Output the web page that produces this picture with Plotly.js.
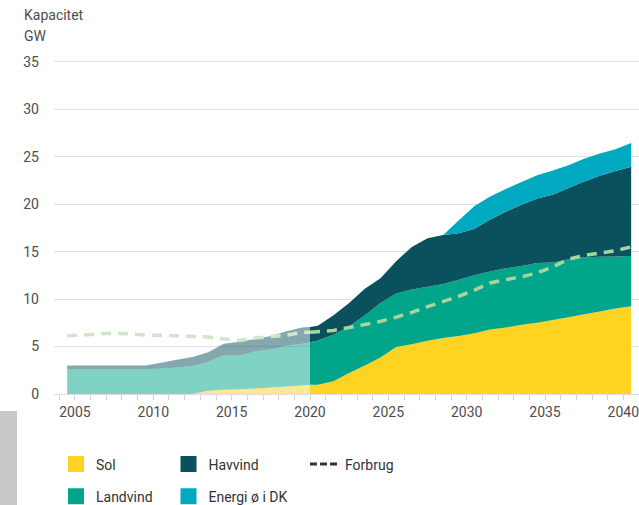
<!DOCTYPE html>
<html>
<head>
<meta charset="utf-8">
<script src="https://cdn.plot.ly/plotly-3.0.1.min.js"></script>
<style>
  html, body { margin: 0; padding: 0; background: #fff; }
  #plot { width: 639px; height: 505px; }
</style>
</head>
<body>
<div id="plot"></div>
<script>
// Historik (vises afbleget), punkter midt i året
const yearsHist = [2004.5, 2005.5, 2006.5, 2007.5, 2008.5, 2009.5, 2010.5, 2011.5,
  2012.5, 2013.5, 2014.5, 2015.5, 2016.5, 2017.5, 2018.5, 2019.5, 2020];
const solHist = [0, 0, 0, 0, 0, 0, 0, 0, 0, 0.35, 0.45, 0.5, 0.58, 0.68, 0.8, 0.92, 0.98];
const landvindHist = [2.6, 2.6, 2.6, 2.6, 2.6, 2.6, 2.7, 2.8, 2.95, 3.05, 3.65, 3.55, 3.92, 4.02, 4.3, 4.38, 4.47];
const havvindHist = [0.4, 0.4, 0.4, 0.4, 0.4, 0.4, 0.6, 0.8, 0.95, 1.0, 1.2, 1.45, 1.3, 1.4, 1.5, 1.7, 1.6];
const forbrugHist = [6.15, 6.2, 6.35, 6.4, 6.35, 6.2, 6.2, 6.15, 6.1, 6.0, 5.8, 5.65, 5.9, 6.05, 6.2, 6.5, 6.5];

// Fremskrivning 2020-2040
const yearsProj = [2020, 2020.5, 2021.5, 2022.5, 2023.5, 2024.5, 2025.5, 2026.5, 2027.5, 2028.5,
  2029.5, 2030.5, 2031.5, 2032.5, 2033.5, 2034.5, 2035.5, 2036.5, 2037.5, 2038.5, 2039.5, 2040.5];
const solProj = [0.98, 0.98, 1.35, 2.2, 3.0, 3.85, 4.95, 5.25, 5.6, 5.9, 6.1, 6.4, 6.8, 7.0, 7.3, 7.5, 7.8, 8.1, 8.4, 8.7, 9.0, 9.25];
const landvindProj = [4.47, 4.67, 4.9, 4.9, 5.3, 5.75, 5.65, 5.75, 5.7, 5.7, 5.95, 6.1, 6.1, 6.25, 6.2, 6.3, 6.05, 6.1, 6.0, 5.75, 5.5, 5.3];
const havvindProj = [1.6, 1.55, 2.05, 2.5, 2.8, 2.6, 3.4, 4.5, 5.1, 5.15, 4.9, 4.9, 5.5, 5.95, 6.45, 6.8, 7.15, 7.5, 8.0, 8.55, 9.0, 9.4];
const energiOProj = [0, 0, 0, 0, 0, 0, 0, 0, 0, 0, 1.35, 2.4, 2.4, 2.4, 2.4, 2.45, 2.55, 2.4, 2.4, 2.35, 2.3, 2.5];
const forbrugProj = [6.5, 6.55, 6.7, 7.0, 7.3, 7.65, 8.1, 8.6, 9.2, 9.75, 10.3, 10.95, 11.7, 12.05, 12.35, 12.75, 13.4, 14.2, 14.6, 14.85, 15.1, 15.5];

const xTicks = [2005, 2010, 2015, 2020, 2025, 2030, 2035, 2040];

const colSol = "#ffd322";
const colLand = "#00a58a";
const colHav = "#0b515d";
const colEnergi = "#00a9c0";
const colForbrug = "#a9d49f";

function area(x, y, color, group) {
  return {
    x: x, y: y, type: "scatter", mode: "none",
    stackgroup: group, fillcolor: color,
    line: { width: 0 }, showlegend: false, hoverinfo: "skip"
  };
}

function legendBox(name, color, legend) {
  return {
    x: [null], y: [null], type: "scatter", mode: "markers", name: name,
    marker: { symbol: "square", size: 16, color: color },
    legend: legend, legendgroup: name, showlegend: true
  };
}

const data = [
  // historik
  area(yearsHist, solHist, "rgba(255,211,34,0.5)", "h"),
  area(yearsHist, landvindHist, "rgba(0,165,138,0.5)", "h"),
  area(yearsHist, havvindHist, "rgba(11,81,93,0.5)", "h"),
  // fremskrivning
  area(yearsProj, solProj, colSol, "p"),
  area(yearsProj, landvindProj, colLand, "p"),
  area(yearsProj, havvindProj, colHav, "p"),
  area(yearsProj, energiOProj, colEnergi, "p"),
  // forbrug
  {
    x: yearsHist, y: forbrugHist, type: "scatter", mode: "lines",
    line: { color: "#cfe6c8", width: 3.5, dash: "10px,7px" },
    showlegend: false, hoverinfo: "skip"
  },
  {
    x: yearsProj, y: forbrugProj, type: "scatter", mode: "lines",
    line: { color: colForbrug, width: 3.5, dash: "10px,7px" },
    showlegend: false, hoverinfo: "skip"
  },
  // legende
  legendBox("Sol", colSol, "legend"),
  legendBox("Landvind", colLand, "legend"),
  legendBox("Havvind", colHav, "legend2"),
  legendBox("Energi ø i DK", colEnergi, "legend2"),
  {
    x: [null], y: [null], type: "scatter", mode: "lines", name: "Forbrug",
    line: { color: "#333", width: 3, dash: "7px,3px" },
    legend: "legend3", showlegend: true
  }
];

const legendFont = { family: "Roboto, sans-serif", size: 14, color: "#333" };
function legendPos(x) {
  return {
    x: x, y: 0.1119, xref: "container", yref: "container",
    xanchor: "left", yanchor: "top", orientation: "v",
    font: legendFont, bgcolor: "rgba(0,0,0,0)", tracegroupgap: 11,
    itemclick: false, itemdoubleclick: false
  };
}

const layout = {
  width: 639,
  height: 505,
  margin: { l: 54, r: 0, t: 59, b: 111, autoexpand: false },
  paper_bgcolor: "#fff",
  plot_bgcolor: "#fff",
  font: { family: "Roboto, sans-serif", size: 14, color: "#4d4d4d" },
  xaxis: {
    range: [2003.66, 2041.0],
    tickvals: xTicks,
    ticks: "outside",
    ticklen: 5,
    tickcolor: "#d4d4d4",
    ticklabeloverflow: "allow",
    showline: true,
    linecolor: "#dcdcdc",
    showgrid: false,
    zeroline: false,
    minor: { dtick: 1, tick0: 2005, ticks: "outside", ticklen: 5, tickcolor: "#d4d4d4", showgrid: false }
  },
  yaxis: {
    range: [0, 35.3],
    tickvals: [0, 5, 10, 15, 20, 25, 30, 35],
    gridcolor: "#e0e0e0",
    zeroline: false,
    ticks: "",
    ticklabelstandoff: 14
  },
  annotations: [
    { text: "Kapacitet", xref: "paper", yref: "paper", x: -0.0547, y: 1.1325,
      xanchor: "left", yanchor: "middle", showarrow: false },
    { text: "GW", xref: "paper", yref: "paper", x: -0.0547, y: 1.0698,
      xanchor: "left", yanchor: "middle", showarrow: false }
  ],
  shapes: [
    { type: "rect", xref: "paper", yref: "paper", x0: -0.0923, x1: -0.0632,
      y0: -0.3313, y1: -0.0507, fillcolor: "#c8c8c8", line: { width: 0 } }
  ],
  legend: legendPos(0.0876),
  legend2: legendPos(0.2637),
  legend3: legendPos(0.4773)
};

Plotly.newPlot("plot", data, layout, { staticPlot: true, displayModeBar: false });
</script>
</body>
</html>
